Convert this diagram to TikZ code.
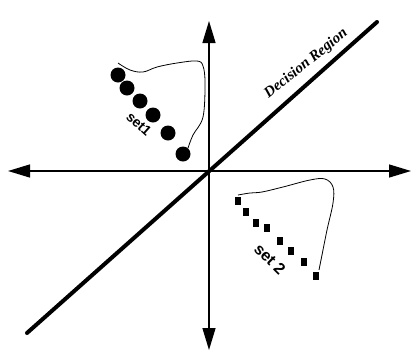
\documentclass[tikz,border=0pt]{standalone}
\usepackage{fontspec}
\setmainfont{Liberation Serif}
\newfontfamily\labsans{Liberation Sans}
\usetikzlibrary{arrows.meta}
\begin{document}
\begin{tikzpicture}[x=1pt,y=-1pt,
  axis/.style={line width=1.3pt,-{Triangle[length=22pt,width=13pt]}},
  dot/.style={circle,fill=black,inner sep=0pt,minimum size=15pt},
  sq/.style={rectangle,fill=black,inner sep=0pt,minimum width=6pt,minimum height=8pt},
  loop/.style={line width=0.8pt},
  setlab/.style={font=\labsans\bfseries\fontsize{14}{14}\selectfont},
  declab/.style={font=\bfseries\itshape\fontsize{15}{15}\selectfont}]
\useasboundingbox (0,0) rectangle (412,354);
\coordinate (O) at (209,171);
\coordinate (L) at (8,171);
\coordinate (R) at (411,171);
\coordinate (T) at (209,21);
\coordinate (B) at (209,350);
\coordinate (D1) at (27,333);
\coordinate (D2) at (377,22);
\draw[axis] (O) -- (L);
\draw[axis] (O) -- (R);
\draw[axis] (O) -- (T);
\draw[axis] (O) -- (B);
\draw[line width=4pt,line cap=round] (D1) -- (D2);
\node[declab,rotate=39,anchor=base west] (dec) at (266,101) {Decision Region};
% set 1
\node[dot] (a1) at (118,75) {};
\node[dot] (a2) at (127,88) {};
\node[dot] (a3) at (140,101) {};
\node[dot] (a4) at (153,115) {};
\node[dot] (a5) at (168,133) {};
\node[dot] (a6) at (183,154) {};
\draw[loop] plot[smooth,tension=0.6] coordinates {(118,63) (130,70) (143,72) (157,67) (177,63) (197,61) (203,66) (205,83) (203,117) (193,135) (188,148)};
\node[setlab,rotate=-42] (s1) at (139,124) {set1};
% set 2
\node[sq] (b1) at (238,201) {};
\node[sq] (b2) at (246,212) {};
\node[sq] (b3) at (256,223) {};
\node[sq] (b4) at (267,228) {};
\node[sq] (b5) at (280,241) {};
\node[sq] (b6) at (291,251) {};
\node[sq] (b7) at (304,262) {};
\node[sq] (b8) at (316,276) {};
\draw[loop] plot[smooth,tension=0.6] coordinates {(238,195) (250,193) (262,192) (283,187) (310,180) (325,179) (333,187) (333,203) (327,230) (322,255) (319,270)};
\node[setlab,rotate=-45,font=\labsans\bfseries\fontsize{16}{16}\selectfont] (s2) at (270,259) {set 2};
\end{tikzpicture}
\end{document}
